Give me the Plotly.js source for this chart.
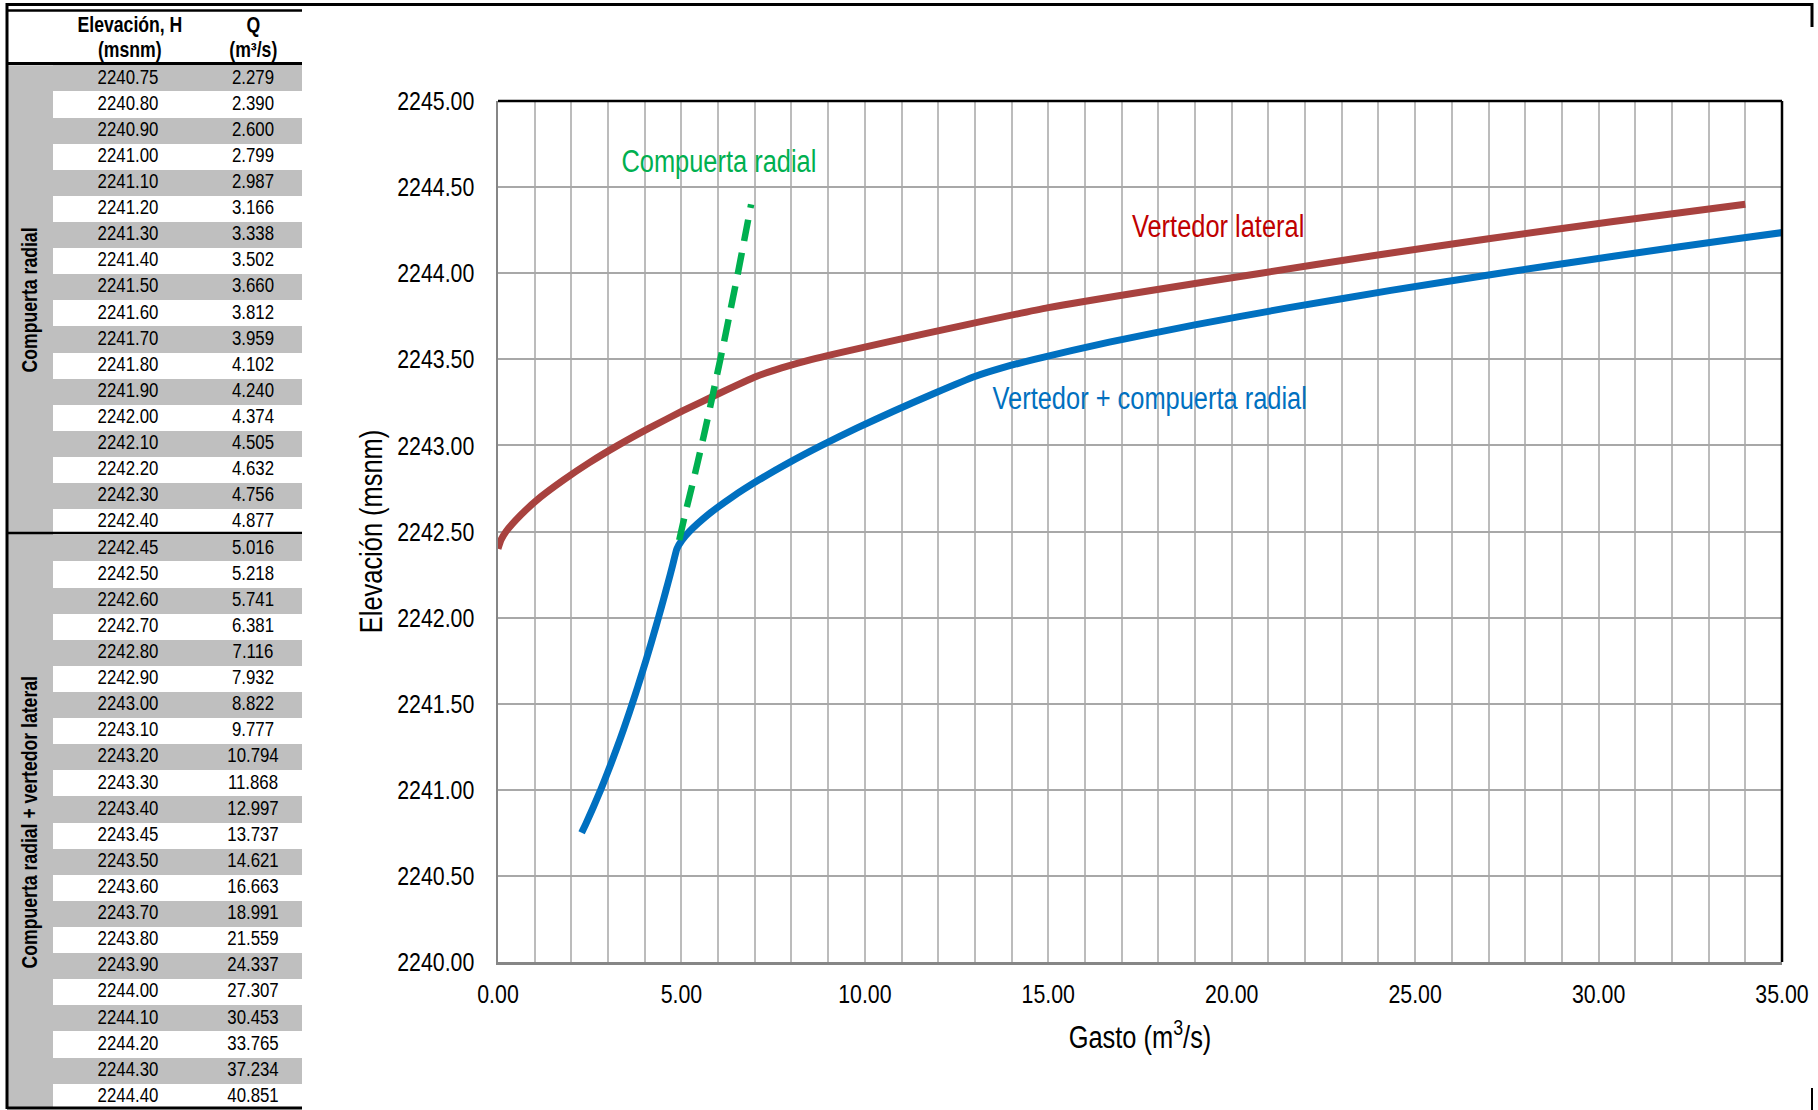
<!DOCTYPE html>
<html><head><meta charset="utf-8">
<script src="https://cdn.plot.ly/plotly-3.0.1.min.js"></script>
<style>html,body{margin:0;padding:0;background:#fff}#chart{width:1818px;height:1110px}</style>
</head><body><div id="chart"></div>
<script>
// ---- Table data (also the blue curve) ----
const elevation = [2240.75,2240.80,2240.90,2241.00,2241.10,2241.20,2241.30,2241.40,2241.50,2241.60,2241.70,2241.80,2241.90,2242.00,2242.10,2242.20,2242.30,2242.40,
  2242.45,2242.50,2242.60,2242.70,2242.80,2242.90,2243.00,2243.10,2243.20,2243.30,2243.40,2243.45,2243.50,2243.60,2243.70,2243.80,2243.90,2244.00,2244.10,2244.20,2244.30,2244.40];
const gasto = [2.279,2.390,2.600,2.799,2.987,3.166,3.338,3.502,3.660,3.812,3.959,4.102,4.240,4.374,4.505,4.632,4.756,4.877,
  5.016,5.218,5.741,6.381,7.116,7.932,8.822,9.777,10.794,11.868,12.997,13.737,14.621,16.663,18.991,21.559,24.337,27.307,30.453,33.765,37.234,40.851];
const groupLabels = ['Compuerta radial', 'Compuerta radial + vertedor lateral'];
const groupSizes = [18, 22];
const headerH = ['Elevación, H', '(msnm)'];
const headerQ = ['Q', '(m³/s)'];

// ---- Curves ----
const lateralH = [2242.40,2242.45,2242.50,2242.60,2242.70,2242.80,2242.90,2243.00,2243.10,2243.20,2243.30,2243.40,2243.45,2243.50,2243.60,2243.70,2243.80,2243.90,2244.00,2244.10,2244.20,2244.30,2244.40];
const lateralQ = [0.00,0.08,0.22,0.64,1.16,1.79,2.49,3.27,4.12,5.03,6.01,7.04,7.73,8.56,10.60,12.75,15.00,17.80,20.80,23.80,27.00,30.40,34.00];
const radialH = [2242.45,2242.60,2242.80,2243.00,2243.20,2243.40,2243.60,2243.80,2244.00,2244.20,2244.40];
const radialQ = [4.94,5.10,5.33,5.55,5.76,5.96,6.16,6.35,6.54,6.72,6.90];

const seriesNames = ['Vertedor + compuerta radial', 'Vertedor lateral', 'Compuerta radial'];
const xTitle = 'Gasto (m<sup>3</sup>/s)';
const yTitle = 'Elevación (msnm)';

// ---- Styling / layout helpers ----
const W = 1818, H = 1110;
const px = x => x / W;
const py = y => 1 - y / H;
const FONT = '"Liberation Sans", Arial, sans-serif';
const NARROW_RATIO = 0.82;   // emulate Arial Narrow
const BLUE = '#0070c0', RED = '#a8423f', GREEN = '#00b050';
const STRIPE = '#bfbfbf';

const nRows = elevation.length;
const rowIdx = elevation.map((_, i) => i);
const stripeRows = rowIdx.filter(i => i % 2 === 0);

const traces = [
  {x: gasto, y: elevation, type: 'scatter', mode: 'lines', name: seriesNames[0],
   line: {color: BLUE, width: 7, shape: 'spline', smoothing: 0.5}, xaxis: 'x', yaxis: 'y', hoverinfo: 'skip'},
  {x: lateralQ, y: lateralH, type: 'scatter', mode: 'lines', name: seriesNames[1],
   line: {color: RED, width: 7, shape: 'spline', smoothing: 0.5}, xaxis: 'x', yaxis: 'y', hoverinfo: 'skip'},
  {x: radialQ, y: radialH, type: 'scatter', mode: 'lines', name: seriesNames[2],
   line: {color: GREEN, width: 6.5, dash: '22px,12px', shape: 'spline', smoothing: 0.5}, xaxis: 'x', yaxis: 'y', hoverinfo: 'skip'},
  {type: 'bar', orientation: 'h', y: stripeRows, x: stripeRows.map(() => 249), base: 46, width: 1,
   marker: {color: STRIPE, line: {width: 0}}, xaxis: 'x2', yaxis: 'y2', hoverinfo: 'skip'},
  {type: 'scatter', mode: 'text', x: rowIdx.map(() => 121), y: rowIdx, text: elevation.map(v => v.toFixed(2)),
   textfont: {family: FONT, size: 20.5, color: '#000'}, xaxis: 'x2', yaxis: 'y2', hoverinfo: 'skip'},
  {type: 'scatter', mode: 'text', x: rowIdx.map(() => 246), y: rowIdx, text: gasto.map(v => v.toFixed(3)),
   textfont: {family: FONT, size: 20.5, color: '#000'}, xaxis: 'x2', yaxis: 'y2', hoverinfo: 'skip'}
];

const groupStart = [0, groupSizes[0]];
const groupEnd = [groupSizes[0] - 1, groupSizes[0] + groupSizes[1] - 1];

const ann = (o) => Object.assign({showarrow: false, xanchor: 'center', yanchor: 'middle'}, o);
const annotations = [
  ann({xref: 'x', yref: 'y', x: 6.02, y: 2244.65, text: seriesNames[2], font: {family: FONT, size: 31, color: GREEN}}),
  ann({xref: 'x', yref: 'y', x: 19.63, y: 2244.27, text: seriesNames[1], font: {family: FONT, size: 31, color: '#c00000'}}),
  ann({xref: 'x', yref: 'y', x: 17.77, y: 2243.275, text: seriesNames[0], font: {family: FONT, size: 31, color: BLUE}}),
  ann({xref: 'paper', yref: 'paper', x: px(1140), y: py(1035), text: xTitle, font: {family: FONT, size: 31, color: '#000'}}),
  ann({xref: 'paper', yref: 'paper', x: px(371), y: py(531.5), text: yTitle, textangle: -90, font: {family: FONT, size: 31, color: '#000'}}),
  ann({xref: 'paper', yref: 'paper', x: px(130), y: py(25), text: '<b>' + headerH[0] + '</b>', font: {family: FONT, size: 21.5, color: '#000'}}),
  ann({xref: 'paper', yref: 'paper', x: px(130), y: py(50), text: '<b>' + headerH[1] + '</b>', font: {family: FONT, size: 21.5, color: '#000'}}),
  ann({xref: 'paper', yref: 'paper', x: px(253), y: py(25), text: '<b>' + headerQ[0] + '</b>', font: {family: FONT, size: 21.5, color: '#000'}}),
  ann({xref: 'paper', yref: 'paper', x: px(253), y: py(50), text: '<b>' + headerQ[1] + '</b>', font: {family: FONT, size: 21.5, color: '#000'}})
];
groupLabels.forEach((g, k) => {
  annotations.push(ann({xref: 'x2', yref: 'y2', x: 23, y: (groupStart[k] + groupEnd[k]) / 2, text: '<b>' + g + '</b>',
    textangle: -90, font: {family: FONT, size: 21.5, color: '#000'}}));
});

const hline = (y, x0, x1, w) => ({type: 'line', xref: 'paper', yref: 'paper', x0: px(x0), x1: px(x1), y0: py(y), y1: py(y), line: {color: '#000', width: w}});
const vline = (x, y0, y1, w) => ({type: 'line', xref: 'paper', yref: 'paper', x0: px(x), x1: px(x), y0: py(y0), y1: py(y1), line: {color: '#000', width: w}});

const shapes = [
  {type: 'rect', xref: 'x2', yref: 'y2', x0: 0, x1: 46, y0: -0.5, y1: nRows - 0.5, fillcolor: STRIPE, line: {width: 0}, layer: 'below'},
  hline(4.5, 7, 1813, 3),
  vline(1812, 3, 27, 3),
  vline(1812, 1088, 1110, 2),
  hline(10.5, 7, 302, 2.5),
  vline(7, 3, 1109, 3),
  hline(63.5, 7, 302, 3),
  hline(533, 7, 302, 2.5),
  hline(1108, 7, 302, 3),
  {type: 'line', xref: 'x domain', yref: 'y domain', x0: 0, x1: 1, y0: 1, y1: 1, line: {color: '#000', width: 2.5}},
  {type: 'line', xref: 'x domain', yref: 'y domain', x0: 1, x1: 1, y0: 0, y1: 1, line: {color: '#000', width: 2.5}}
];

const layout = {
  width: W, height: H,
  margin: {l: 0, r: 0, t: 0, b: 0, pad: 0},
  paper_bgcolor: '#fff', plot_bgcolor: '#fff',
  showlegend: false,
  font: {family: FONT, color: '#000'},
  xaxis: {
    domain: [px(498), px(1782)], range: [0, 35], dtick: 5, tick0: 0, tickformat: '.2f',
    showgrid: true, gridcolor: '#bcbcbc', gridwidth: 2,
    minor: {dtick: 1, showgrid: true, gridcolor: '#bcbcbc', gridwidth: 2},
    showline: true, linecolor: '#868686', linewidth: 2.5, zeroline: false,
    ticks: '', ticklabelstandoff: 7,
    tickfont: {family: FONT, size: 26, color: '#000'},
    fixedrange: true, anchor: 'y'
  },
  yaxis: {
    domain: [py(962), py(101)], range: [2240, 2245], dtick: 0.5, tick0: 2240, tickformat: '.2f',
    showgrid: true, gridcolor: '#a8a8a8', gridwidth: 2,
    showline: true, linecolor: '#868686', linewidth: 2.5, zeroline: false,
    ticks: '', ticklabelstandoff: 16,
    tickfont: {family: FONT, size: 26, color: '#000'},
    fixedrange: true, anchor: 'x'
  },
  xaxis2: {domain: [px(7), px(302)], range: [0, 295], visible: false, fixedrange: true, anchor: 'y2'},
  yaxis2: {domain: [py(1108), py(63.5)], range: [nRows - 0.5 - 0.07, -0.5 - 0.07], visible: false, fixedrange: true, anchor: 'x2'},
  bargap: 0,
  annotations: annotations,
  shapes: shapes
};

Plotly.newPlot('chart', traces, layout, {displayModeBar: false, staticPlot: true}).then(gd => {
  // condense every text horizontally to imitate a narrow typeface
  gd.querySelectorAll('text').forEach(t => {
    if (!t.textContent.trim()) return;
    const w = t.getComputedTextLength();
    if (w > 0) {
      t.setAttribute('textLength', (w * NARROW_RATIO).toFixed(2));
      t.setAttribute('lengthAdjust', 'spacingAndGlyphs');
    }
  });
});
</script>
</body></html>
